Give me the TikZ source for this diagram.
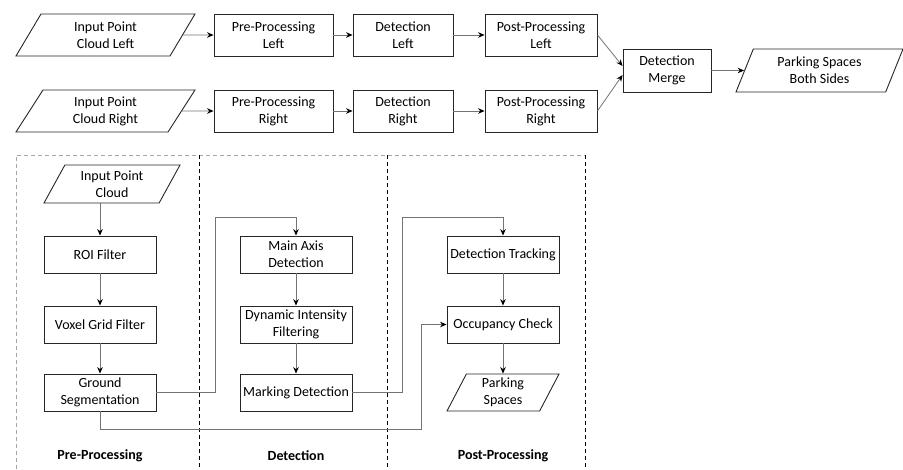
\documentclass[tikz,border=0pt]{standalone}
\usepackage{fontspec}
\setmainfont{Carlito}
\usetikzlibrary{arrows.meta,shapes.geometric}

\begin{document}
\begin{tikzpicture}[x=1pt, y=-1pt, >={Stealth[length=6.5pt,width=5.5pt,black]}, font=\fontsize{14}{17}\selectfont,
  box/.style={draw=black!85, line width=0.9pt, align=center, minimum height=37pt, inner sep=1pt},
  io/.style={box, trapezium, trapezium stretches body},
  link/.style={->, draw=black!55, line width=0.8pt},
  lane/.style={line width=0.8pt, dash pattern=on 4pt off 3pt},
  lbl/.style={font=\fontsize{14}{17}\selectfont\bfseries}]
  \useasboundingbox (0,0) rectangle (903,469);
  \node[io, minimum width=179pt, minimum height=42pt, trapezium left angle=49, trapezium right angle=131] (inL) at (105.5,35) {Input Point\\Cloud Left};
  \node[box, minimum width=119pt, minimum height=42pt] (ppL) at (273.5,35) {Pre-Processing\\Left};
  \node[box, minimum width=100pt, minimum height=42pt] (dtL) at (403,35) {Detection\\Left};
  \node[box, minimum width=112pt, minimum height=42pt] (poL) at (541,35) {Post-Processing\\Left};
  \node[io, minimum width=179pt, minimum height=42pt, trapezium left angle=49, trapezium right angle=131] (inR) at (105.5,111) {Input Point\\Cloud Right};
  \node[box, minimum width=119pt, minimum height=42pt] (ppR) at (273.5,111) {Pre-Processing\\Right};
  \node[box, minimum width=100pt, minimum height=42pt] (dtR) at (403,111) {Detection\\Right};
  \node[box, minimum width=112pt, minimum height=42pt] (poR) at (541,111) {Post-Processing\\Right};
  \node[box, minimum width=88pt, minimum height=43pt] (merge) at (667,70.5) {Detection\\Merge};
  \node[io, minimum width=167pt, minimum height=43pt, trapezium left angle=59, trapezium right angle=121] (both) at (819.5,70.5) {Parking Spaces\\Both Sides};
  \draw[link] (inL) -- (ppL);
  \draw[link] (ppL) -- (dtL);
  \draw[link] (dtL) -- (poL);
  \draw[link] (inR) -- (ppR);
  \draw[link] (ppR) -- (dtR);
  \draw[link] (dtR) -- (poR);
  \draw[link] (poL.east) -- ([yshift=4.5pt]merge.west);
  \draw[link] (poR.east) -- ([yshift=-4.5pt]merge.west);
  \draw[link] (merge) -- (both);

  \draw[lane, draw=black!35] (16,469) -- (16,155) -- (585,155);
  \draw[lane] (199,155) -- (199,469);
  \draw[lane] (387,155) -- (387,469);
  \draw[lane] (585,155) -- (585,469);

  \node[io, minimum width=136pt, minimum height=38pt, trapezium left angle=54, trapezium right angle=126] (in) at (112,184) {Input Point\\Cloud};
  \node[box, minimum width=112pt] (roi) at (100,254.5) {ROI Filter};
  \node[box, minimum width=112pt] (vox) at (100,324.5) {Voxel Grid Filter};
  \node[box, minimum width=112pt] (gnd) at (100,392.5) {Ground\\Segmentation};
  \node[box, minimum width=112pt] (axis) at (296,254.5) {Main Axis\\Detection};
  \node[box, minimum width=112pt] (dyn) at (296,324.5) {Dynamic Intensity\\Filtering};
  \node[box, minimum width=112pt] (mark) at (296,392.5) {Marking Detection};
  \node[box, minimum width=112pt] (trk) at (503,254.5) {Detection Tracking};
  \node[box, minimum width=112pt] (occ) at (503,324.5) {Occupancy Check};
  \node[io, minimum width=112pt, trapezium left angle=58, trapezium right angle=122] (park) at (503,392.5) {Parking\\Spaces};
  \draw[link] (roi.north |- in.south) -- (roi);
  \draw[link] (roi) -- (vox);
  \draw[link] (vox) -- (gnd);
  \draw[link] (axis) -- (dyn);
  \draw[link] (dyn) -- (mark);
  \draw[link] (trk) -- (occ);
  \draw[link] (occ) -- (park);
  \draw[link] (gnd.east) -- ++(59,0) |- ([yshift=18pt]axis.north) -- (axis.north);
  \draw[link] (mark.east) -- ++(50,0) |- ([yshift=18pt]trk.north) -- (trk.north);
  \draw[link] (gnd.south) -- ++(0,18) -| ([xshift=-25pt]occ.west) -- (occ.west);

  \node[lbl] (lblpre) at (100,456) {Pre-Processing};
  \node[lbl] (lbldet) at (296,456) {Detection};
  \node[lbl] (lblpost) at (503,456) {Post-Processing};
\end{tikzpicture}
\end{document}
